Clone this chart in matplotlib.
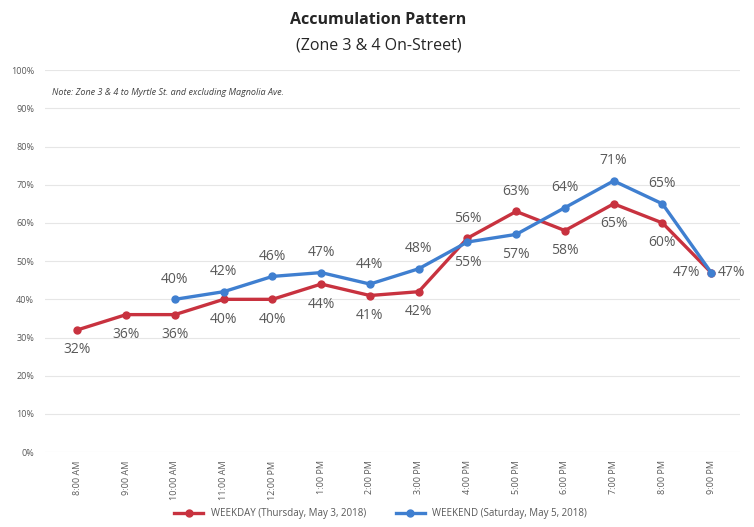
import matplotlib.pyplot as plt
from matplotlib.ticker import PercentFormatter

# data
times = ['8:00 AM', '9:00 AM', '10:00 AM', '11:00 AM', '12:00 PM', '1:00 PM', '2:00 PM',
         '3:00 PM', '4:00 PM', '5:00 PM', '6:00 PM', '7:00 PM', '8:00 PM', '9:00 PM']
weekday = [32, 36, 36, 40, 40, 44, 41, 42, 56, 63, 58, 65, 60, 47]
weekend_times = times[2:]
weekend = [40, 42, 46, 47, 44, 48, 55, 57, 64, 71, 65, 47]

weekday_label = 'WEEKDAY (Thursday, May 3, 2018)'
weekend_label = 'WEEKEND (Saturday, May 5, 2018)'

RED = '#C8323F'
BLUE = '#3F7FD0'
TXT = '#595959'

plt.rcParams['font.family'] = ['Open Sans', 'DejaVu Sans']

fig = plt.figure(figsize=(7.54, 5.27), dpi=100)
ax = fig.add_axes([0.06, 0.142, 0.922, 0.725])

x_wd = list(range(len(times)))
x_we = [times.index(t) for t in weekend_times]

ax.plot(x_wd, weekday, color=RED, lw=2.4, marker='o', ms=5, zorder=3, label=weekday_label)
ax.plot(x_we, weekend, color=BLUE, lw=2.4, marker='o', ms=5, zorder=3, label=weekend_label)


def put_label(xi, v, other, side_if_equal):
    # higher series gets its label above, lower one below
    if other is not None and other == v:
        dx = -8 if side_if_equal == 'left' else 5
        ax.annotate(f'{v}%', (xi, v), xytext=(dx, 0), textcoords='offset points',
                    ha='right' if dx < 0 else 'left', va='center', fontsize=10, color=TXT)
    elif other is not None and v > other:
        ax.annotate(f'{v}%', (xi, v), xytext=(0, 9), textcoords='offset points',
                    ha='center', va='bottom', fontsize=10, color=TXT)
    else:
        ax.annotate(f'{v}%', (xi, v), xytext=(0, -9), textcoords='offset points',
                    ha='center', va='top', fontsize=10, color=TXT)


we_map = dict(zip(x_we, weekend))
wd_map = dict(zip(x_wd, weekday))
for xi, v in zip(x_wd, weekday):
    put_label(xi, v, we_map.get(xi), 'left')
for xi, v in zip(x_we, weekend):
    put_label(xi, v, wd_map[xi], 'right')

ax.set_xlim(-0.66, 13.6)
ax.set_ylim(0, 100)
ax.set_yticks(range(0, 101, 10))
ax.yaxis.set_major_formatter(PercentFormatter(decimals=0))
ax.set_xticks(x_wd)
ax.set_xticklabels(times, rotation=90, fontsize=6.5, color=TXT)
ax.tick_params(axis='y', labelsize=6.5, labelcolor=TXT, length=0, pad=8)
ax.tick_params(axis='x', length=0, pad=6)
ax.grid(axis='y', color='#E6E6E6', lw=0.8)
ax.set_axisbelow(True)
for s in ax.spines.values():
    s.set_visible(False)

ax.text(0.01, 0.935, 'Note: Zone 3 & 4 to Myrtle St. and excluding Magnolia Ave.',
        transform=ax.transAxes, fontsize=6.5, style='italic', color='#404040')

fig.text(0.502, 0.962, 'Accumulation Pattern', ha='center', va='center',
         fontsize=11.5, fontweight='bold', color='#262626')
fig.text(0.502, 0.914, '(Zone 3 & 4 On-Street)', ha='center', va='center',
         fontsize=11.5, color='#262626')

fig.legend(loc='center', bbox_to_anchor=(0.505, 0.025), ncol=2, frameon=False,
           fontsize=7, labelcolor=TXT, handlelength=3, columnspacing=3)

fig.savefig('out.png', dpi=100, facecolor='white')
